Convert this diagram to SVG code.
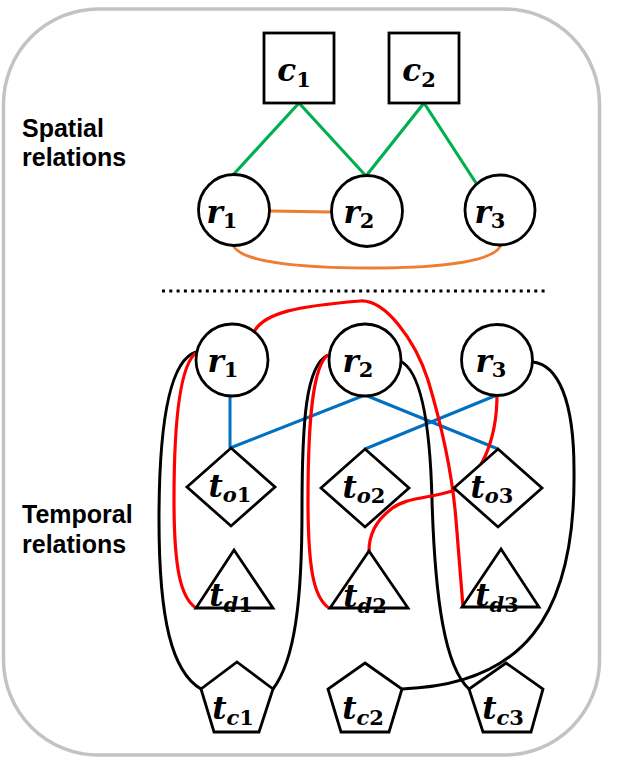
<svg xmlns="http://www.w3.org/2000/svg" width="625" height="765" viewBox="0 0 625 765">
<style>
.frame{fill:#fff;stroke:#c3c3c3;stroke-width:3.5}
.node{fill:#fff;stroke:#000;stroke-width:2.8}
.lbl{font-family:"DejaVu Serif","Liberation Serif",serif;font-weight:bold;font-style:italic;font-size:31px;fill:#000}
.sub{font-size:21px}
.num{font-style:normal}
.side{font-family:"Liberation Sans",Arial,sans-serif;font-weight:bold;font-size:25px;fill:#000}
.g{stroke:#00b050;stroke-width:3.2;fill:none}
.o{stroke:#ed7d31;stroke-width:2.8;fill:none}
.b{stroke:#0070c0;stroke-width:3;fill:none}
.r{stroke:#ff0000;stroke-width:3.2;fill:none}
.k{stroke:#000;stroke-width:3;fill:none}
.dot{stroke:#000;stroke-width:3;stroke-dasharray:3 4.3;fill:none}
</style>
<rect class="frame" x="3.5" y="9" width="596" height="746" rx="95" ry="95"/>
<text class="side" x="22" y="137">Spatial</text>
<text class="side" x="22" y="166">relations</text>
<text class="side" x="22" y="523">Temporal</text>
<text class="side" x="22" y="553">relations</text>
<line class="dot" x1="162" y1="291" x2="548" y2="291"/>
<g id="connectors">
<line class="g" x1="299" y1="103" x2="233" y2="175"/>
<line class="g" x1="299" y1="103" x2="366" y2="176"/>
<line class="g" x1="424" y1="103" x2="366" y2="176"/>
<line class="g" x1="424" y1="103" x2="476" y2="183"/>
<line class="o" x1="270" y1="211" x2="332" y2="212"/>
<path class="o" d="M233,245 C240,262 300,268 370,268 C450,268 495,260 501,245"/>
<line class="b" x1="230" y1="396" x2="230" y2="448"/>
<line class="b" x1="230" y1="448" x2="365" y2="395"/>
<line class="b" x1="365" y1="395" x2="498" y2="449"/>
<line class="b" x1="497" y1="395" x2="365" y2="449"/>
<path class="k" d="M196,352 C170,360 159,420 159,520 C159,620 172,672 201,689"/>
<path class="r" d="M196,353 C180,365 174,420 174,500 C174,570 181,598 196,608"/>
<path class="k" d="M328,355 C306,365 302,420 302,510 C302,600 295,660 273,689"/>
<path class="r" d="M328,355 C313,365 308,420 308,500 C308,570 314,598 329,608"/>
<path class="k" d="M400,361 C420,370 430,420 432,500 C435,600 445,667 469,689"/>
<path class="k" d="M533,362 C558,365 574,400 574,470 C576,620 520,685 402,689"/>
<path class="r" d="M253,334 C262,312 300,306 360,301 C385,299 415,340 428,380 C440,420 452,470 456,520 L463,607"/>
<path class="r" d="M497,395 C497,440 480,482 452,491 C427,499 405,497 390,510 C376,521 369,535 369,551"/>
</g>
<g id="c1"><rect class="node" x="264" y="33" width="70" height="70"/><text class="lbl" x="294" y="81" text-anchor="middle">c<tspan class="sub num" dy="6">1</tspan></text></g>
<g id="c2"><rect class="node" x="389" y="33" width="70" height="70"/><text class="lbl" x="419" y="81" text-anchor="middle">c<tspan class="sub num" dy="6">2</tspan></text></g>
<g id="s_r1"><circle class="node" cx="234" cy="210" r="35.5"/><text class="lbl" x="222" y="223" text-anchor="middle">r<tspan class="sub num" dy="5">1</tspan></text></g>
<g id="s_r2"><circle class="node" cx="367" cy="211" r="35.5"/><text class="lbl" x="359" y="223" text-anchor="middle">r<tspan class="sub num" dy="5">2</tspan></text></g>
<g id="s_r3"><circle class="node" cx="500" cy="210" r="35"/><text class="lbl" x="490" y="223" text-anchor="middle">r<tspan class="sub num" dy="5">3</tspan></text></g>
<g id="t_r1"><circle class="node" cx="232" cy="360" r="36"/><text class="lbl" x="223" y="372" text-anchor="middle">r<tspan class="sub num" dy="5">1</tspan></text></g>
<g id="t_r2"><circle class="node" cx="365" cy="360" r="36"/><text class="lbl" x="358" y="372" text-anchor="middle">r<tspan class="sub num" dy="5">2</tspan></text></g>
<g id="t_r3"><circle class="node" cx="497" cy="360" r="35.5"/><text class="lbl" x="491" y="372" text-anchor="middle">r<tspan class="sub num" dy="5">3</tspan></text></g>
<g id="to1"><polygon class="node" points="231,448 275,487 231,526 187,487"/><text class="lbl" x="230" y="497" text-anchor="middle">t<tspan class="sub" dy="5">o</tspan><tspan class="sub num">1</tspan></text></g>
<g id="to2"><polygon class="node" points="365,449 409,488 365,527 321,488"/><text class="lbl" x="364" y="498" text-anchor="middle">t<tspan class="sub" dy="5">o</tspan><tspan class="sub num">2</tspan></text></g>
<g id="to3"><polygon class="node" points="498,449 542,488 498,527 454,488"/><text class="lbl" x="492" y="498" text-anchor="middle">t<tspan class="sub" dy="5">o</tspan><tspan class="sub num">3</tspan></text></g>
<g id="td1"><polygon class="node" points="234,550 273,608 196,608"/><text class="lbl" x="231" y="606" text-anchor="middle">t<tspan class="sub" dy="6">d</tspan><tspan class="sub num">1</tspan></text></g>
<g id="td2"><polygon class="node" points="369,551 408,608 330,608"/><text class="lbl" x="365" y="607" text-anchor="middle">t<tspan class="sub" dy="6">d</tspan><tspan class="sub num">2</tspan></text></g>
<g id="td3"><polygon class="node" points="501,549 539,607 462,607"/><text class="lbl" x="497" y="606" text-anchor="middle">t<tspan class="sub" dy="6">d</tspan><tspan class="sub num">3</tspan></text></g>
<g id="tc1"><polygon class="node" points="237,662 273,689 259,732 214,732 201,689"/><text class="lbl" x="233" y="719" text-anchor="middle">t<tspan class="sub" dy="6">c</tspan><tspan class="sub num">1</tspan></text></g>
<g id="tc2"><polygon class="node" points="365,663 402,689 389,732 341,732 328,689"/><text class="lbl" x="363" y="719" text-anchor="middle">t<tspan class="sub" dy="6">c</tspan><tspan class="sub num">2</tspan></text></g>
<g id="tc3"><polygon class="node" points="506,663 543,689 531,732 483,732 469,689"/><text class="lbl" x="503" y="719" text-anchor="middle">t<tspan class="sub" dy="6">c</tspan><tspan class="sub num">3</tspan></text></g>
</svg>
